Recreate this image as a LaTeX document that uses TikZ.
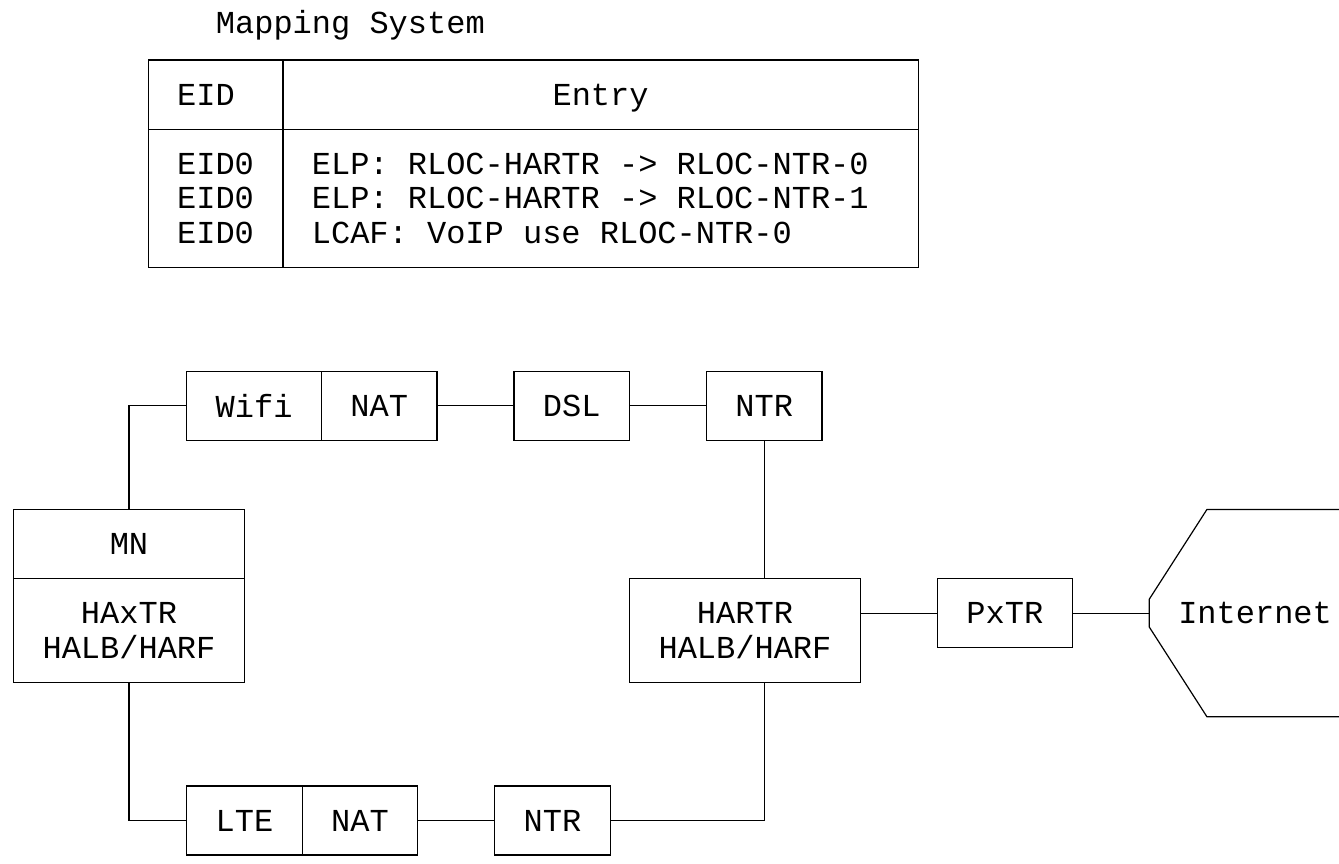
\documentclass[tikz,border=0pt]{standalone}
\usepackage{fontspec}
\newfontfamily\asciifont{Liberation Mono}
\usepackage{xcolor}

\begin{document}
\begin{tikzpicture}[
    x=9.625pt, y=17.285pt,
    % boxes sized on the character grid (one column / one text row)
    box/.style={draw=black, line width=0.6pt, inner sep=0pt, minimum height=2*\rh,
                font=\monofnt, align=center},
    cell/.style={box, inner xsep=1.5*\cw, inner ysep=0pt, align=left,
                 execute at begin node={\spaceskip=0.6em\xspaceskip=0.6em\relax}},
    link/.style={draw=black, line width=0.6pt},
    lbl/.style={font=\monofnt, inner sep=0pt}
]

\def\cw{9.625pt} % column width
\def\rh{17.285pt} % row height
\def\monofnt{\asciifont\fontsize{16}{17.285}\selectfont}

\useasboundingbox (-0.701,0.7356) rectangle (68.86,-24.23);

% ===== MAPPING SYSTEM TABLE =====
\node[lbl] (title) at (17.5,0) {Mapping System};

\node[cell, text width=4*\cw] (eidhead) at (10.5,-2) {EID};
\node[cell, text width=30*\cw, align=center, text depth=0pt] (entryhead) at (30.5,-2) {Entry};
\node[cell, text width=4*\cw, minimum height=4*\rh] (eidbody) at (10.5,-5)
    {EID0\\EID0\\EID0};
\node[cell, text width=30*\cw, minimum height=4*\rh] (entrybody) at (30.5,-5)
    {ELP: RLOC-HARTR -> RLOC-NTR-0\\ELP: RLOC-HARTR -> RLOC-NTR-1\\LCAF: VoIP use RLOC-NTR-0};

% ===== WIFI PATH =====
\node[box, minimum width=7*\cw] (wifi) at (12.5,-11) {Wifi};
\node[box, minimum width=6*\cw] (natwifi) at (19,-11) {NAT};
\node[box, minimum width=6*\cw] (dsl) at (29,-11) {DSL};
\node[box, minimum width=6*\cw] (ntrdsl) at (39,-11) {NTR};

% ===== MOBILE NODE =====
\node[box, minimum width=12*\cw] (mn) at (6,-15) {MN};
\node[box, minimum width=12*\cw, minimum height=3*\rh] (haxtr) at (6,-17.5)
    {HAxTR\\HALB/HARF};

% ===== HOME AGENT / PROXY / INTERNET =====
\node[box, minimum width=12*\cw, minimum height=3*\rh] (hartr) at (38,-17.5)
    {HARTR\\HALB/HARF};
\node[box, minimum width=7*\cw] (pxtr) at (51.5,-17) {PxTR};
\node[lbl] (internet) at (64.5,-17) {Internet};
\coordinate (inetedge) at (59,-17);

% ===== LTE PATH =====
\node[box, minimum width=6*\cw] (lte) at (12,-23) {LTE};
\node[box, minimum width=6*\cw] (natlte) at (18,-23) {NAT};
\node[box, minimum width=6*\cw] (ntrlte) at (28,-23) {NTR};

% links
\draw[link] (wifi.west) -| (mn.north);
\draw[link] (natwifi.east) -- (dsl.west);
\draw[link] (dsl.east) -- (ntrdsl.west);
\draw[link] (ntrdsl.south) -- (ntrdsl.south |- hartr.north);
\draw[link] (pxtr.west -| hartr.east) -- (pxtr.west);
\draw[link] (pxtr.east) -- (inetedge);
\draw[link] (haxtr.south) |- (lte.west);
\draw[link] (natlte.east) -- (ntrlte.west);
\draw[link] (ntrlte.east) -| ([xshift=\cw]hartr.south);

% internet cloud (cut at the right edge)
\draw[link] (70,-14) -- (62,-14) -- (59,-16.6) -- (inetedge) -- (59,-17.4) -- (62,-20) -- (70,-20);

\end{tikzpicture}
\end{document}
